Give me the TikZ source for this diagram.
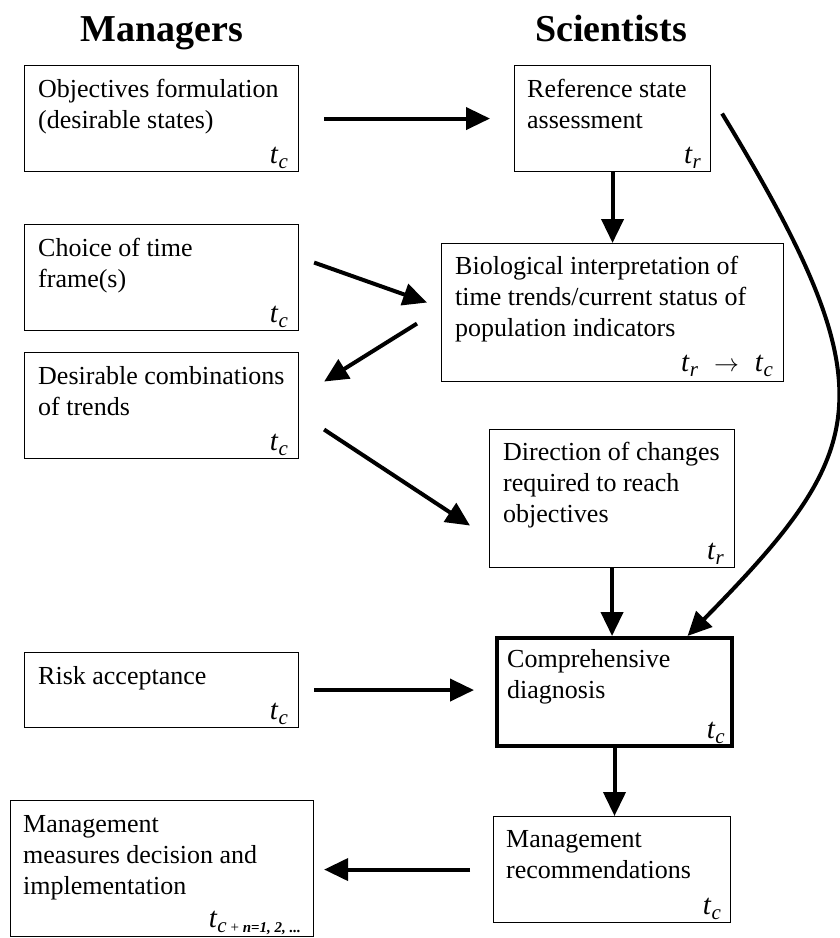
\documentclass[tikz,border=0pt]{standalone}
\usepackage{fontspec}
\setmainfont{Liberation Serif}
\usetikzlibrary{arrows.meta}
\newcommand\tsubx[1]{{\fontsize{29}{31}\selectfont\textit{t}}\raisebox{-5pt}{\fontsize{21}{21}\selectfont\textit{#1}}}
\begin{document}
\begin{tikzpicture}[x=1pt,y=-1pt,
  box/.style={draw, line width=1.1pt, rectangle, inner sep=0pt, anchor=north west},
  thickbox/.style={box, line width=4pt},
  txt/.style={anchor=base west, align=left, inner sep=0pt, font=\fontsize{26}{31}\selectfont},
  tlab/.style={anchor=base east, inner sep=0pt, font=\fontsize{26}{31}\selectfont},
  arr/.style={line width=4pt, -{Triangle[length=24pt,width=22pt]}},
  title/.style={anchor=base, inner sep=0pt, font=\fontsize{38}{44}\selectfont\bfseries}]
\useasboundingbox (0,0) rectangle (840,938);

% titles
\node[title] (mgr) at (162,41) {Managers};
\node[title] (sci) at (611,41) {Scientists};

% manager boxes
\node[box, minimum width=274pt, minimum height=106pt] (obj) at (24,65) {};
\node[box, minimum width=274pt, minimum height=106pt] (cho) at (24,224) {};
\node[box, minimum width=274pt, minimum height=106pt] (des) at (24,352) {};
\node[box, minimum width=274pt, minimum height=75pt] (risk) at (24,652) {};
\node[box, minimum width=303pt, minimum height=136pt] (meas) at (10,800) {};

% scientist boxes
\node[box, minimum width=196pt, minimum height=106pt] (ref) at (514,65) {};
\node[box, minimum width=342pt, minimum height=138pt] (bio) at (441,243) {};
\node[box, minimum width=245pt, minimum height=138pt] (dir) at (489,429) {};
\node[thickbox, minimum width=235pt, minimum height=108pt] (comp) at (495,636) {};
\node[box, minimum width=237pt, minimum height=106pt] (rec) at (493,816) {};

% texts (anchor = baseline of the last line)
\node[txt] (objt) at ([xshift=14pt,yshift=-63pt]obj.north west) {Objectives formulation\\(desirable states)};
\node[txt] (chot) at ([xshift=14pt,yshift=-63pt]cho.north west) {Choice of time\\frame(s)};
\node[txt] (dest) at ([xshift=14pt,yshift=-63pt]des.north west) {Desirable combinations\\of trends};
\node[txt] (riskt) at ([xshift=14pt,yshift=-32pt]risk.north west) {Risk acceptance};
\node[txt] (meast) at ([xshift=13pt,yshift=-94pt]meas.north west) {Management\\measures decision and\\implementation};
\node[txt] (reft) at ([xshift=13pt,yshift=-63pt]ref.north west) {Reference state\\assessment};
\node[txt] (biot) at ([xshift=14pt,yshift=-93pt]bio.north west) {Biological interpretation of\\time trends/current status of\\population indicators};
\node[txt] (dirt) at ([xshift=14pt,yshift=-93pt]dir.north west) {Direction of changes\\required to reach\\objectives};
\node[txt] (compt) at ([xshift=12pt,yshift=-62pt]comp.north west) {Comprehensive\\diagnosis};
\node[txt] (rect) at ([xshift=13pt,yshift=-62pt]rec.north west) {Management\\recommendations};

% time labels
\node[tlab] (objl) at ([xshift=-11pt,yshift=9pt]obj.south east) {\tsubx{c}};
\node[tlab] (chol) at ([xshift=-11pt,yshift=9pt]cho.south east) {\tsubx{c}};
\node[tlab] (desl) at ([xshift=-11pt,yshift=9pt]des.south east) {\tsubx{c}};
\node[tlab] (riskl) at ([xshift=-11pt,yshift=9pt]risk.south east) {\tsubx{c}};
\node[tlab] (measl) at ([xshift=-13pt,yshift=10pt]meas.south east) {{\fontsize{29}{31}\selectfont\textit{t}}\raisebox{-5pt}{{\fontsize{21}{21}\selectfont\textit{c}}\fontsize{15}{15}\selectfont\ + \textbf{\textit{n}=\textit{1,\ 2,\ ...}}}};
\node[tlab] (refl) at ([xshift=-10pt,yshift=9pt]ref.south east) {\tsubx{r}};
\node[tlab] (biol) at ([xshift=-11pt,yshift=11pt]bio.south east) {\tsubx{r}\hspace{16pt}$\rightarrow$\hspace{16pt}\tsubx{c}};
\node[tlab] (dirl) at ([xshift=-11pt,yshift=9pt]dir.south east) {\tsubx{r}};
\node[tlab] (compl) at ([xshift=-9pt,yshift=10pt]comp.south east) {\tsubx{c}};
\node[tlab] (recl) at ([xshift=-10pt,yshift=9pt]rec.south east) {\tsubx{c}};

% connectors
\draw[arr, shorten <=25pt, shorten >=24pt] (obj.east) -- (ref.west);
\draw[arr] (ref.south) -- (ref.south |- bio.north);
\draw[arr] ([xshift=15pt,yshift=15pt]cho.east) -- ([xshift=-14pt,yshift=10pt]bio.west);
\draw[arr] ([xshift=-24pt,yshift=-11pt]bio.west) -- ([xshift=25pt,yshift=24pt]des.east);
\draw[arr] ([xshift=25pt,yshift=-24pt]des.east) -- ([xshift=-19pt,yshift=-27pt]dir.west);
\draw[arr] (dir.south) -- (dir.south |- comp.north);
\draw[arr] ([xshift=11pt,yshift=5pt]ref.east) .. controls (892,393) and (870,450) .. ([xshift=73pt]comp.north);
\draw[arr, shorten <=15pt, shorten >=21pt] (risk.east) -- (risk.east -| comp.west);
\draw[arr] (comp.south) -- (comp.south |- rec.north);
\draw[arr, shorten <=23pt, shorten >=10pt] (rec.west) -- (rec.west -| meas.east);
\end{tikzpicture}
\end{document}
